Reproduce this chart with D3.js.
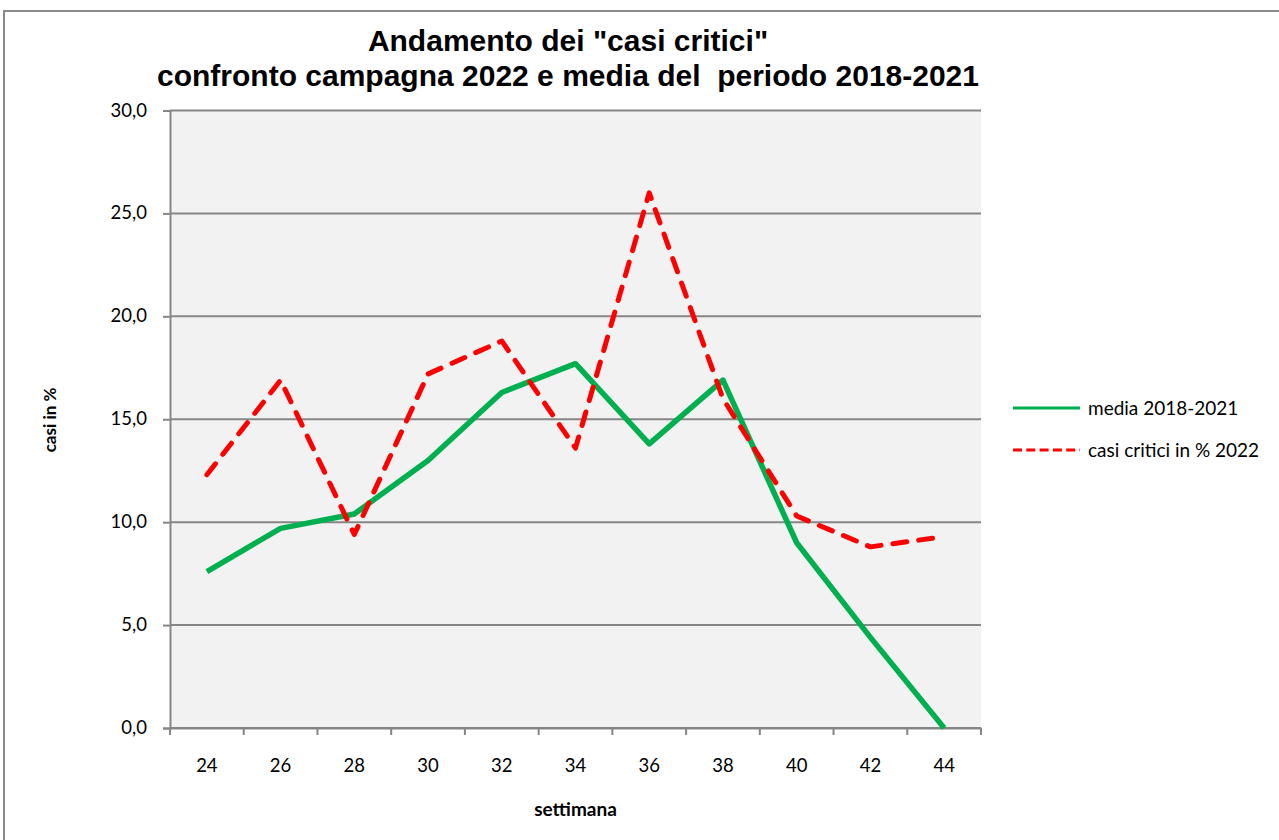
<!DOCTYPE html>
<html><head><meta charset="utf-8">
<script src="https://cdn.jsdelivr.net/npm/d3@7/dist/d3.min.js"></script>
<style>body{margin:0;background:#fff;}svg{display:block;}</style>
</head><body>
<svg id="chart" width="1279" height="840"></svg>
<script>
const weeks = [24, 26, 28, 30, 32, 34, 36, 38, 40, 42, 44];
const media = [7.6, 9.7, 10.4, 13.0, 16.3, 17.7, 13.8, 16.9, 9.0, 4.4, 0.0];
const casi2022 = [12.3, 16.9, 9.4, 17.2, 18.8, 13.6, 26.0, 16.0, 10.3, 8.8, 9.3];
const yTicks = [0, 5, 10, 15, 20, 25, 30];
const titleLines = ['Andamento dei "casi critici"', 'confronto campagna 2022 e media del  periodo 2018-2021'];
const seriesNames = ["media 2018-2021", "casi critici in % 2022"];

const svg = d3.select("#chart");
const gray = "#868686";
const pLeft = 170, pRight = 981, pTop = 110.5, pBottom = 728;
const bodyFont = "Lato, Carlito, sans-serif";

// outer border
svg.append("rect").attr("x", 4).attr("y", 11).attr("width", 1300).attr("height", 900)
  .attr("fill", "#fff").attr("stroke", "#898989").attr("stroke-width", 2);

// title
svg.append("g").selectAll("text").data(titleLines).join("text")
  .attr("x", 568).attr("y", (d, i) => 51 + i * 34.5)
  .attr("text-anchor", "middle")
  .attr("font-family", "Liberation Sans, Arial, sans-serif")
  .attr("font-weight", "bold").attr("font-size", 30)
  .attr("fill", "#000")
  .style("white-space", "pre")
  .text(d => d);

const x = d3.scaleBand().domain(weeks).range([pLeft, pRight]);
const y = d3.scaleLinear().domain([0, 30]).range([pBottom, pTop]);

// plot background
svg.append("rect").attr("x", pLeft).attr("y", pTop).attr("width", pRight - pLeft).attr("height", pBottom - pTop)
  .attr("fill", "#F2F2F2");

// gridlines
svg.append("g").selectAll("line").data(yTicks).join("line")
  .attr("x1", pLeft).attr("x2", pRight)
  .attr("y1", d => y(d)).attr("y2", d => y(d))
  .attr("stroke", gray).attr("stroke-width", 2);

// y axis
const fmt = d => d3.format(".1f")(d).replace(".", ",");
const yAxis = svg.append("g").attr("transform", `translate(${pLeft},0)`)
  .call(d3.axisLeft(y).tickValues(yTicks).tickFormat(fmt).tickSize(7).tickPadding(16));
yAxis.select(".domain").attr("stroke", gray).attr("stroke-width", 2);
yAxis.selectAll(".tick line").attr("stroke", gray).attr("stroke-width", 2);
yAxis.selectAll(".tick text").attr("font-family", bodyFont).attr("font-size", 18.5).attr("fill", "#000").attr("dy", "0.3em");

// x axis
const xAxis = svg.append("g").attr("transform", `translate(0,${pBottom})`)
  .call(d3.axisBottom(x).tickSize(0).tickPadding(31));
xAxis.select(".domain").attr("stroke", gray).attr("stroke-width", 2);
xAxis.selectAll(".tick text").attr("font-family", bodyFont).attr("font-size", 18.5).attr("fill", "#000");
const bounds = weeks.map(w => x(w)).concat([x(weeks[weeks.length - 1]) + x.bandwidth()]);
xAxis.append("g").selectAll("line").data(bounds).join("line")
  .attr("x1", d => d).attr("x2", d => d).attr("y1", 0).attr("y2", 7)
  .attr("stroke", gray).attr("stroke-width", 2);

// axis titles
svg.append("text").attr("transform", "translate(56,420) rotate(-90)")
  .attr("text-anchor", "middle").attr("font-family", bodyFont)
  .attr("font-weight", "bold").attr("font-size", 17).text("casi in %");
svg.append("text").attr("x", 575.5).attr("y", 816)
  .attr("text-anchor", "middle").attr("font-family", bodyFont)
  .attr("font-weight", "bold").attr("font-size", 19).text("settimana");

// lines
const line = d3.line().x((d, i) => x(weeks[i]) + x.bandwidth() / 2).y(d => y(d));
svg.append("path").datum(media).attr("d", line)
  .attr("fill", "none").attr("stroke", "#00B050").attr("stroke-width", 5.5)
  .attr("stroke-linejoin", "round");
svg.append("path").datum(casi2022).attr("d", line)
  .attr("fill", "none").attr("stroke", "#FF0000").attr("stroke-width", 5)
  .attr("stroke-dasharray", "14,12").attr("stroke-linecap", "round").attr("stroke-linejoin", "round");

// legend
const legend = svg.append("g");
const leg = [
  {name: seriesNames[0], color: "#00B050", dash: null, y: 408},
  {name: seriesNames[1], color: "#FF0000", dash: "9,4.3", y: 450}
];
leg.forEach(l => {
  legend.append("line").attr("x1", 1013).attr("x2", 1080).attr("y1", l.y).attr("y2", l.y)
    .attr("stroke", l.color).attr("stroke-width", 3)
    .attr("stroke-dasharray", l.dash);
  legend.append("text").attr("x", 1088).attr("y", l.y).attr("dy", "0.35em")
    .attr("font-family", bodyFont).attr("font-size", 19).attr("fill", "#000")
    .text(l.name);
});
</script>
</body></html>
